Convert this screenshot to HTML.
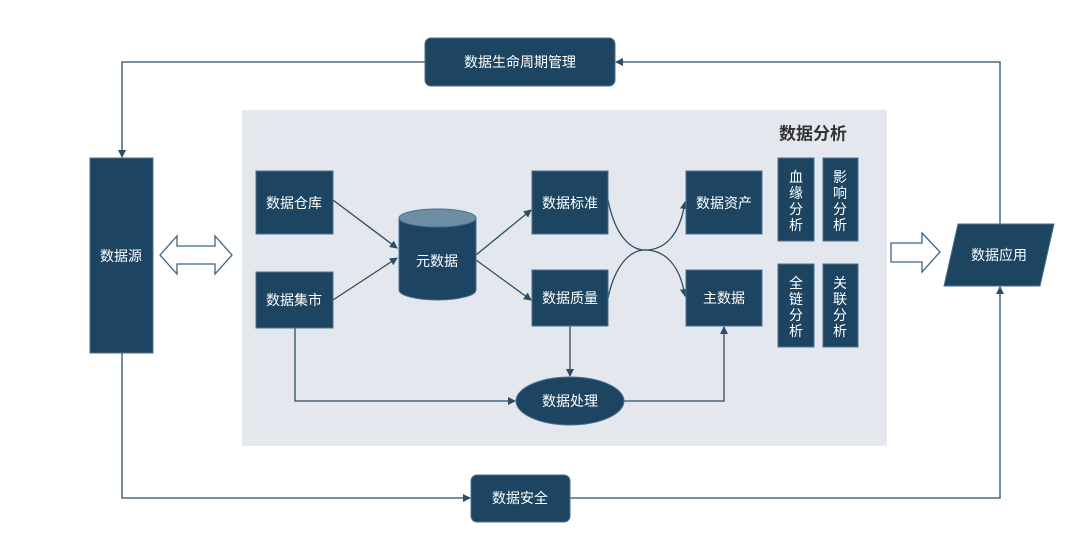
<!DOCTYPE html>
<html><head><meta charset="utf-8"><style>
body{margin:0;background:#fff;width:1080px;height:545px;overflow:hidden}
svg text{font-family:"Liberation Sans","Noto Sans CJK SC",sans-serif;fill:#fff;font-size:14px;text-anchor:middle;dominant-baseline:central}
</style></head><body>
<svg width="1080" height="545" viewBox="0 0 1080 545">
<defs><marker id="a" markerWidth="8" markerHeight="8" refX="7" refY="4" orient="auto" markerUnits="userSpaceOnUse"><path d="M0,0 L8,4 L0,8z" fill="#2c4d66"/></marker></defs>
<rect x="242" y="110" width="645" height="336" fill="#e4e8ee"/>
<g stroke="#2c4d66" stroke-width="1.3" fill="none">
<polyline points="425,62 122,62 122,157" marker-end="url(#a)"/>
<polyline points="1000,224 1000,62 616,62" marker-end="url(#a)"/>
<polyline points="122,353 122,498 470,498" marker-end="url(#a)"/>
<polyline points="570,498 1000,498 1000,287" marker-end="url(#a)"/>
<line x1="333" y1="200" x2="397" y2="248" marker-end="url(#a)"/>
<line x1="333" y1="300" x2="397" y2="258" marker-end="url(#a)"/>
<line x1="476" y1="255" x2="531" y2="210" marker-end="url(#a)"/>
<line x1="476" y1="260" x2="531" y2="300" marker-end="url(#a)"/>
<path d="M608,200 C615,235 630,250 645,250 C665,250 680,235 685,202" marker-end="url(#a)"/>
<path d="M608,298 C615,265 630,250 645,250 C665,250 680,265 685,296" marker-end="url(#a)"/>
<polyline points="295,328 295,401 515,401" marker-end="url(#a)"/>
<polyline points="624,401 724,401 724,327" marker-end="url(#a)"/>
<line x1="570" y1="326" x2="570" y2="376" marker-end="url(#a)"/>
</g>
<g fill="#1d4562" stroke="#4a6f8f" stroke-width="1">
<rect x="425" y="38" width="190" height="48" rx="6"/>
<rect x="90" y="158" width="63" height="195"/>
<rect x="256" y="171" width="77" height="63"/>
<rect x="256" y="272" width="77" height="56"/>
<rect x="532" y="171" width="76" height="63"/>
<rect x="532" y="270" width="76" height="56"/>
<rect x="686" y="171" width="76" height="63"/>
<rect x="686" y="270" width="76" height="56"/>
<rect x="778" y="158" width="36" height="83"/>
<rect x="823" y="158" width="35" height="83"/>
<rect x="778" y="264" width="36" height="83"/>
<rect x="823" y="264" width="35" height="83"/>
<ellipse cx="570" cy="401" rx="54" ry="24"/>
<polygon points="958,224 1054,224 1040,286 944,286"/>
<rect x="471" y="475" width="99" height="47" rx="6"/>
<path d="M399,218 L399,290 A38.5,10 0 0 0 476,290 L476,218z"/>
</g>
<ellipse cx="437.5" cy="218" rx="38.5" ry="9" fill="#6e8ea3" stroke="#4a6f8f"/>
<g fill="#fff" stroke="#3d6482" stroke-width="1.3">
<polygon points="160,255 177,236 177,246 215,246 215,236 232,255 215,274 215,264 177,264 177,274"/>
<polygon points="891,243 922,243 922,233 940,252 922,272 922,262 891,262"/>
</g>
<text x="520" y="62">数据生命周期管理</text>
<text x="121" y="256">数据源</text>
<text x="294" y="203">数据仓库</text>
<text x="294" y="300">数据集市</text>
<text x="437" y="261">元数据</text>
<text x="570" y="203">数据标准</text>
<text x="570" y="298">数据质量</text>
<text x="724" y="203">数据资产</text>
<text x="724" y="298">主数据</text>
<text x="570" y="401">数据处理</text>
<text x="999" y="255">数据应用</text>
<text x="520" y="498">数据安全</text>
<text x="813" y="134" style="fill:#333;font-weight:bold;font-size:17px">数据分析</text>
<g style="font-size:13px">
<text x="796" y="177">血</text><text x="796" y="193">缘</text><text x="796" y="209">分</text><text x="796" y="225">析</text>
<text x="840" y="177">影</text><text x="840" y="193">响</text><text x="840" y="209">分</text><text x="840" y="225">析</text>
<text x="796" y="283">全</text><text x="796" y="299">链</text><text x="796" y="315">分</text><text x="796" y="331">析</text>
<text x="840" y="283">关</text><text x="840" y="299">联</text><text x="840" y="315">分</text><text x="840" y="331">析</text>
</g>
</svg>
</body></html>
